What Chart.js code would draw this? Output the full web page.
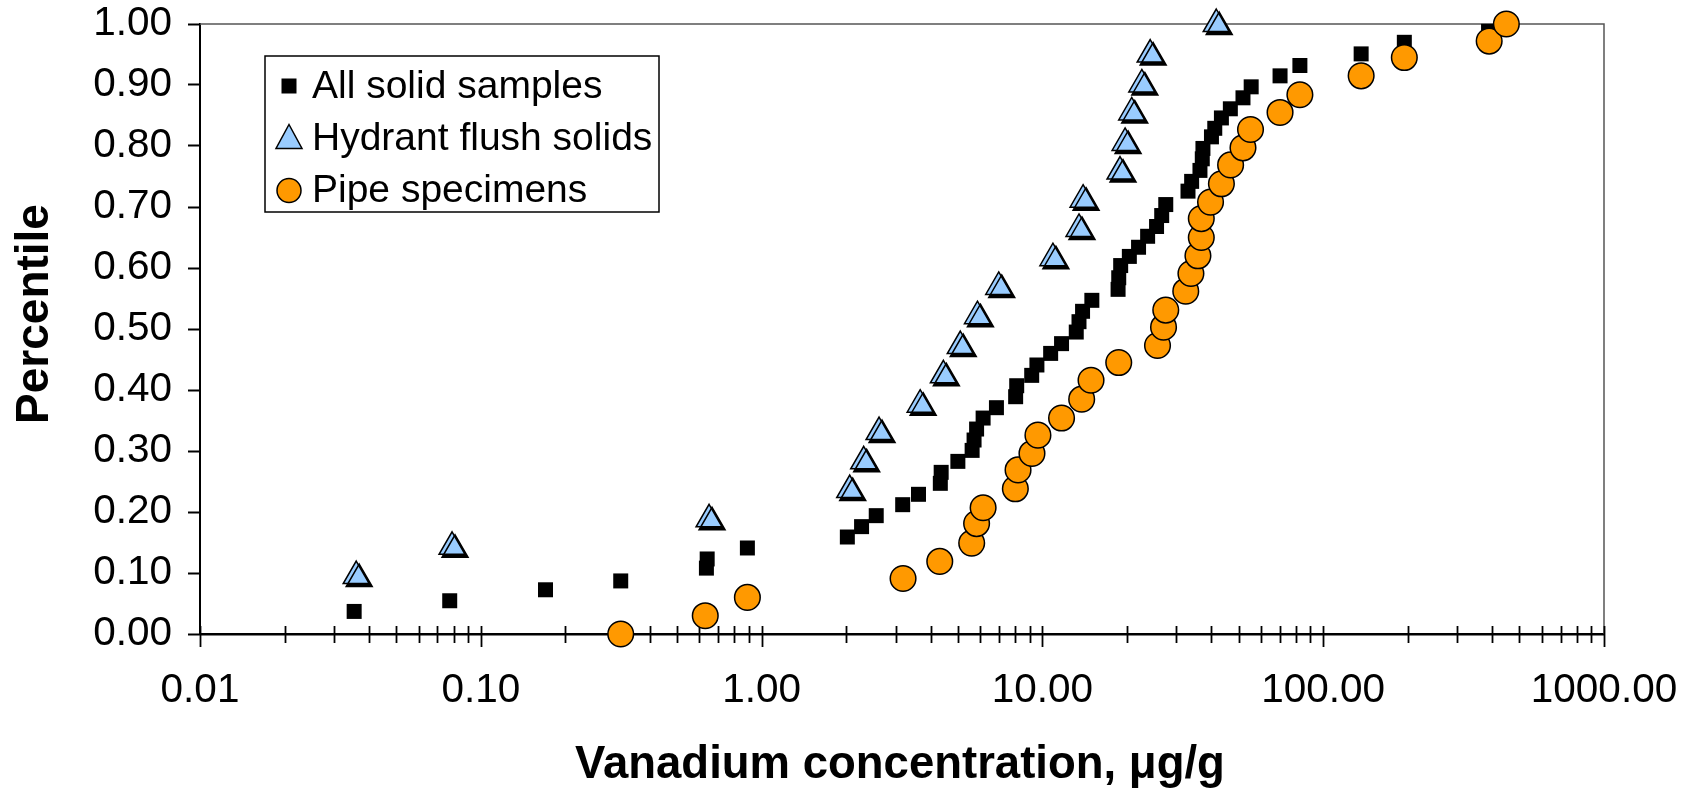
<!DOCTYPE html>
<html>
<head>
<meta charset="utf-8">
<title>Vanadium concentration percentiles</title>
<script src="https://cdn.jsdelivr.net/npm/chart.js"></script>
<style>
    html, body { margin: 0; padding: 0; background: #fff; }
    #wrap { width: 1683px; height: 790px; position: relative; }
</style>
</head>
<body>
<div id="wrap"><canvas id="chartVanadium"></canvas></div>
<script>
// Values
const solidConc = [0.0354, 0.0775, 0.17, 0.315, 0.636, 0.64, 0.89, 2.02, 2.27, 2.56, 3.18, 3.62, 4.33, 4.36,
    5.00, 5.62, 5.71, 5.83, 6.15, 6.86, 8.03, 8.10, 9.16, 9.56, 10.7, 11.7, 13.2, 13.5, 13.9, 15.0,
    18.6, 18.7, 19.0, 20.4, 22.0, 23.7, 25.5, 26.6, 27.5, 33.0, 34.0, 36.4, 37.1, 37.3, 40.0, 41.1,
    43.4, 46.7, 51.8, 55.4, 70.2, 82.6, 136.5, 194.5, 388];
const solidPct = [0.037, 0.0545, 0.0725, 0.087, 0.108, 0.123, 0.141, 0.159, 0.176, 0.194, 0.212, 0.229, 0.247, 0.265,
    0.283, 0.301, 0.318, 0.336, 0.354, 0.371, 0.389, 0.407, 0.424, 0.441, 0.460, 0.476, 0.495, 0.512, 0.529, 0.547,
    0.565, 0.584, 0.604, 0.619, 0.634, 0.652, 0.668, 0.686, 0.704, 0.726, 0.742, 0.760, 0.779, 0.796, 0.815, 0.829,
    0.846, 0.861, 0.879, 0.897, 0.915, 0.932, 0.951, 0.970, 0.988];

const hydrantConc = [0.036, 0.079, 0.65, 2.06, 2.31, 2.62, 3.67, 4.44, 5.10, 5.87, 6.99, 10.9, 13.5, 13.96,
    18.9, 19.7, 20.8, 22.6, 24.2, 41.6];
const hydrantPct = [0.095, 0.143, 0.188, 0.236, 0.283, 0.331, 0.376, 0.424, 0.472, 0.521, 0.569, 0.616, 0.664, 0.712,
    0.758, 0.805, 0.855, 0.901, 0.950, 1.0];

const pipeConc = [0.315, 0.63, 0.89, 3.19, 4.31, 5.60, 5.83, 6.15, 8.01, 8.19, 9.18, 9.64, 11.7, 13.8, 14.9,
    18.7, 25.7, 27.0, 27.5, 32.4, 33.8, 35.8, 36.8, 36.8, 39.7, 43.4, 46.8, 51.8, 55.1, 70.2, 82.6,
    136.5, 194.5, 390, 449];
const pipePct = [0.0, 0.030, 0.060, 0.091, 0.119, 0.149, 0.181, 0.207, 0.238, 0.269, 0.296, 0.326, 0.354, 0.385, 0.416,
    0.445, 0.473, 0.503, 0.531, 0.562, 0.591, 0.620, 0.650, 0.681, 0.708, 0.738, 0.769, 0.797, 0.827, 0.855, 0.884,
    0.915, 0.945, 0.972, 1.0];

const seriesNames = ['All solid samples', 'Hydrant flush solids', 'Pipe specimens'];

// Axis ticks
const xMajorTicks = [0.01, 0.1, 1, 10, 100, 1000];
const xMajorLabels = ['0.01', '0.10', '1.00', '10.00', '100.00', '1000.00'];
const xMinorSteps = [2, 3, 4, 5, 6, 7, 8, 9];

const FONT = '"Liberation Sans", Arial, sans-serif';
const TRI_FILL = '#99CCFF';
const PIPE_FILL = '#FF9900';

const toPoints = (xs, ys) => xs.map((x, i) => ({ x: x, y: ys[i] }));

/**
 * Tick list for the log axis (decades + 2..9 minors)
 */
function buildXTicks() {
    const ticks = [];
    xMajorTicks.forEach((m, i) => {
        ticks.push({ value: m, major: true, label: xMajorLabels[i] });
        if (i < xMajorTicks.length - 1) {
            xMinorSteps.forEach(s => ticks.push({ value: m * s, major: false, label: '' }));
        }
    });
    return ticks;
}

/**
 * Frame on top/right and Excel-like crossing tick marks on the x axis
 */
const frameAndTicks = {
    id: 'frameAndTicks',
    beforeDatasetsDraw(chart) {
        const { ctx, chartArea: a } = chart;
        const x = chart.scales.x;
        ctx.save();
        ctx.strokeStyle = '#555';
        ctx.lineWidth = 1.5;
        ctx.beginPath();
        ctx.moveTo(a.left, a.top);
        ctx.lineTo(a.right, a.top);
        ctx.lineTo(a.right, a.bottom);
        ctx.stroke();

        ctx.strokeStyle = '#000';
        ctx.lineWidth = 1.8;
        x.ticks.forEach(t => {
            const px = Math.round(x.getPixelForValue(t.value)) + 0.5;
            ctx.beginPath();
            ctx.moveTo(px, a.bottom - 8);
            ctx.lineTo(px, a.bottom + (t.major ? 13 : 9));
            ctx.stroke();
        });
        ctx.restore();
    }
};

/**
 * Drop shadow under the triangles
 */
const triangleShadow = {
    id: 'triangleShadow',
    beforeDatasetDraw(chart, args) {
        if (args.index !== 1) return;
        const ctx = chart.ctx;
        ctx.save();
        ctx.shadowColor = '#000';
        ctx.shadowOffsetX = 3;
        ctx.shadowOffsetY = 3;
        ctx.shadowBlur = 0;
    },
    afterDatasetDraw(chart, args) {
        if (args.index !== 1) return;
        chart.ctx.restore();
    }
};

/**
 * Axis titles and the boxed legend inside the plot
 */
const titlesAndLegend = {
    id: 'titlesAndLegend',
    afterDraw(chart) {
        const ctx = chart.ctx;
        ctx.save();
        ctx.fillStyle = '#000';
        ctx.font = `bold 45.5px ${FONT}`;
        ctx.textAlign = 'center';
        ctx.textBaseline = 'alphabetic';
        ctx.fillText('Vanadium concentration, μg/g', 900, 778);

        ctx.save();
        ctx.translate(48, 314);
        ctx.rotate(-Math.PI / 2);
        ctx.font = `bold 46px ${FONT}`;
        ctx.fillText('Percentile', 0, 0);
        ctx.restore();

        // legend box
        ctx.fillStyle = '#fff';
        ctx.fillRect(265, 56, 394, 156);
        ctx.strokeStyle = '#000';
        ctx.lineWidth = 1.5;
        ctx.strokeRect(265, 56, 394, 156);

        const rows = [86, 138.5, 190.5];
        const mx = 289;

        // square
        ctx.fillStyle = '#000';
        ctx.fillRect(mx - 7.5, rows[0] - 7.5, 15, 15);

        // triangle
        ctx.beginPath();
        ctx.moveTo(mx, rows[1] - 14);
        ctx.lineTo(mx + 13, rows[1] + 10);
        ctx.lineTo(mx - 13, rows[1] + 10);
        ctx.closePath();
        ctx.fillStyle = TRI_FILL;
        ctx.fill();
        ctx.lineWidth = 1.5;
        ctx.stroke();

        // circle
        ctx.beginPath();
        ctx.arc(mx, rows[2], 12, 0, Math.PI * 2);
        ctx.fillStyle = PIPE_FILL;
        ctx.fill();
        ctx.stroke();

        ctx.fillStyle = '#000';
        ctx.font = `39px ${FONT}`;
        ctx.textAlign = 'left';
        ctx.textBaseline = 'middle';
        seriesNames.forEach((name, i) => ctx.fillText(name, 312, rows[i] + 1));
        ctx.restore();
    }
};

function renderChart() {
    const ctx = document.getElementById('chartVanadium').getContext('2d');
    const xTicks = buildXTicks();

    new Chart(ctx, {
        type: 'scatter',
        data: {
            datasets: [
                {
                    label: seriesNames[0],
                    data: toPoints(solidConc, solidPct),
                    pointStyle: 'rect',
                    pointRadius: 10.6,
                    backgroundColor: '#000',
                    borderWidth: 0,
                    order: 2,
                    clip: false
                },
                {
                    label: seriesNames[1],
                    data: toPoints(hydrantConc, hydrantPct),
                    pointStyle: 'triangle',
                    pointRadius: 15,
                    backgroundColor: TRI_FILL,
                    borderColor: '#000',
                    borderWidth: 1.5,
                    order: 1,
                    clip: false
                },
                {
                    label: seriesNames[2],
                    data: toPoints(pipeConc, pipePct),
                    pointStyle: 'circle',
                    pointRadius: 12.8,
                    backgroundColor: PIPE_FILL,
                    borderColor: '#000',
                    borderWidth: 1.5,
                    order: 0,
                    clip: false
                }
            ]
        },
        options: {
            responsive: true,
            maintainAspectRatio: false,
            animation: false,
            events: [],
            layout: { padding: { top: 24, right: 79, left: 0, bottom: 0 } },
            plugins: {
                legend: { display: false },
                tooltip: { enabled: false }
            },
            scales: {
                x: {
                    type: 'logarithmic',
                    min: 0.01,
                    max: 1000,
                    afterBuildTicks: (scale) => { scale.ticks = xTicks.map(t => ({ value: t.value, major: t.major })); },
                    afterFit: (scale) => {
                        scale.height = 156;
                        scale.paddingLeft = 0;
                        scale.paddingRight = 0;
                    },
                    grid: { display: false, drawTicks: false },
                    border: { display: true, color: '#000', width: 2.5 },
                    ticks: {
                        autoSkip: false,
                        maxRotation: 0,
                        minRotation: 0,
                        padding: 33,
                        color: '#000',
                        font: { family: FONT, size: 40.5 },
                        callback: (value, index) => xTicks[index] ? xTicks[index].label : ''
                    }
                },
                y: {
                    min: 0,
                    max: 1,
                    afterFit: (scale) => {
                        scale.width = 200;
                        scale.paddingTop = 0;
                        scale.paddingBottom = 0;
                    },
                    grid: {
                        drawOnChartArea: false,
                        drawTicks: true,
                        tickLength: 12,
                        tickColor: '#000',
                        tickWidth: 2
                    },
                    border: { display: true, color: '#000', width: 2 },
                    ticks: {
                        stepSize: 0.1,
                        padding: 16,
                        color: '#000',
                        font: { family: FONT, size: 40.5 },
                        callback: (value) => Number(value).toFixed(2)
                    }
                }
            }
        },
        plugins: [frameAndTicks, triangleShadow, titlesAndLegend]
    });
}

document.addEventListener('DOMContentLoaded', renderChart);
</script>
</body>
</html>
